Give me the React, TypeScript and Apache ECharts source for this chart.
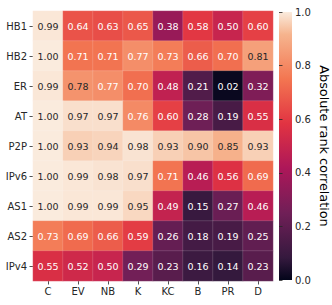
import React, { useEffect, useRef } from "react";
import * as echarts from "echarts";

const rows = ["HB1", "HB2", "ER", "AT", "P2P", "IPv6", "AS1", "AS2", "IPv4"];
const cols = ["C", "EV", "NB", "K", "KC", "B", "PR", "D"];
const hb1 = [0.99, 0.64, 0.63, 0.65, 0.38, 0.58, 0.5, 0.6];
const hb2 = [1.0, 0.71, 0.71, 0.77, 0.73, 0.66, 0.7, 0.81];
const er = [0.99, 0.78, 0.77, 0.7, 0.48, 0.21, 0.02, 0.32];
const at = [1.0, 0.97, 0.97, 0.76, 0.6, 0.28, 0.19, 0.55];
const p2p = [1.0, 0.93, 0.94, 0.98, 0.93, 0.9, 0.85, 0.93];
const ipv6 = [1.0, 0.99, 0.98, 0.97, 0.71, 0.46, 0.56, 0.69];
const as1 = [1.0, 0.99, 0.99, 0.95, 0.49, 0.15, 0.27, 0.46];
const as2 = [0.73, 0.69, 0.66, 0.59, 0.26, 0.18, 0.19, 0.25];
const ipv4 = [0.55, 0.52, 0.5, 0.29, 0.23, 0.16, 0.14, 0.23];
const matrix = [hb1, hb2, er, at, p2p, ipv6, as1, as2, ipv4];

const rocketStops: [number, string][] = [
  [0, "#03051a"],
  [0.083, "#35193e"],
  [0.25, "#701f57"],
  [0.417, "#ad1759"],
  [0.583, "#e13342"],
  [0.75, "#f37651"],
  [0.917, "#f6b48e"],
  [1, "#faebdd"],
];

export default function App() {
  const ref = useRef<HTMLDivElement>(null);
  useEffect(() => {
    const chart = echarts.init(ref.current!, null, { renderer: "svg" });
    const data: any[] = [];
    matrix.forEach((row, r) =>
      row.forEach((v, c) => {
        data.push({
          value: [c, r, v],
          label: { color: v >= 0.78 ? "#262626" : "#ffffff" },
        });
      })
    );
    const font = "DejaVu Sans";
    chart.setOption({
      animation: false,
      textStyle: { fontFamily: font },
      grid: [
        { left: 33, top: 11, width: 240, height: 270 },
        { left: 279, top: 12, width: 13, height: 268 },
      ],
      xAxis: [
        {
          type: "category",
          data: cols,
          gridIndex: 0,
          position: "bottom",
          axisLine: { show: false },
          axisTick: { show: true, length: 3.5, alignWithLabel: true, lineStyle: { color: "#262626", width: 0.8 } },
          axisLabel: { fontSize: 10, color: "#262626", margin: 5, fontFamily: font },
          splitLine: { show: false },
        },
        { type: "value", gridIndex: 1, show: false, min: 0, max: 1 },
      ],
      yAxis: [
        {
          type: "category",
          data: rows,
          inverse: true,
          gridIndex: 0,
          axisLine: { show: false },
          axisTick: { show: true, length: 3.5, alignWithLabel: true, lineStyle: { color: "#262626", width: 0.8 } },
          axisLabel: { fontSize: 10, color: "#262626", margin: 6, fontFamily: font },
          splitLine: { show: false },
        },
        {
          type: "value",
          gridIndex: 1,
          position: "right",
          min: 0,
          max: 1,
          interval: 0.2,
          axisLine: { show: false },
          axisTick: { show: true, length: 3.5, lineStyle: { color: "#262626", width: 0.8 } },
          axisLabel: {
            fontSize: 10,
            color: "#262626",
            margin: 5,
            fontFamily: font,
            formatter: (v: number) => v.toFixed(1),
          },
          splitLine: { show: false },
          name: "Absolute rank correlation",
          nameLocation: "middle",
          nameRotate: -90,
          nameGap: 28,
          nameTextStyle: { fontSize: 12.8, color: "#000000", fontFamily: font },
        },
      ],
      visualMap: {
        show: false,
        min: 0,
        max: 1,
        seriesIndex: 0,
        dimension: 2,
        inRange: { color: rocketStops.map((s) => s[1]) },
      },
      graphic: [
        {
          type: "rect",
          shape: { x: 279, y: 12, width: 13, height: 268 },
          style: {
            fill: new echarts.graphic.LinearGradient(
              0,
              1,
              0,
              0,
              rocketStops.map(([o, c]) => ({ offset: o, color: c }))
            ),
          },
          z: -1,
        },
      ],
      series: [
        {
          type: "heatmap",
          xAxisIndex: 0,
          yAxisIndex: 0,
          data,
          label: {
            show: true,
            fontSize: 9.5,
            fontFamily: font,
            formatter: (p: any) => p.value[2].toFixed(2),
          },
          itemStyle: { borderColor: "rgba(255,255,255,0.3)", borderWidth: 0.5 },
          emphasis: { disabled: true },
        },
      ],
    });
    return () => chart.dispose();
  }, []);
  return (
    <div
      ref={ref}
      style={{ position: "fixed", left: 0, top: 0, width: 332, height: 305, background: "#fff" }}
    />
  );
}
